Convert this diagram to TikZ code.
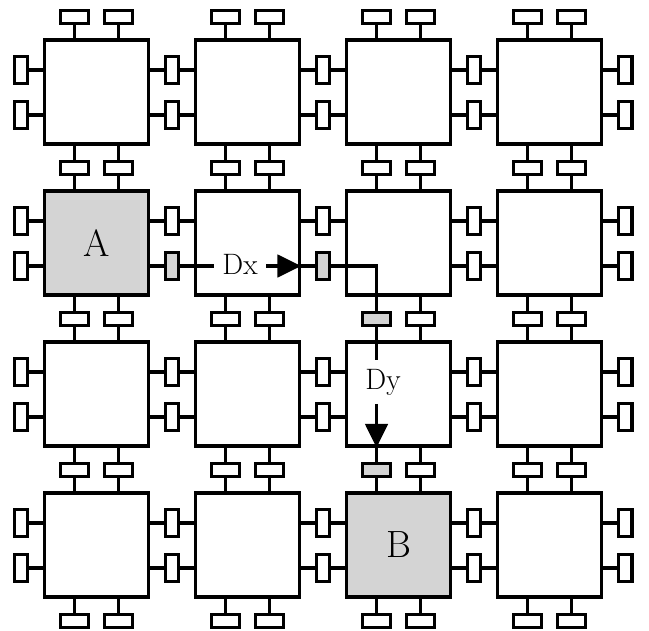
\documentclass[tikz,border=0pt]{standalone}
\usetikzlibrary{arrows.meta}
\begin{document}
\begin{tikzpicture}[
    x=0.025cm, y=-0.025cm,
    line width=2.4pt,
    chip/.style={draw, fill=white, minimum size=2.6cm, inner sep=0pt},
    vport/.style={draw, fill=white, minimum width=0.34cm, minimum height=0.68cm, inner sep=0pt},
    hport/.style={draw, fill=white, minimum width=0.7cm, minimum height=0.34cm, inner sep=0pt},
    marked/.style={fill=black!17},
    chiptext/.style={font=\fontsize{27}{30}\selectfont},
    hoptext/.style={font=\fontsize{21}{24}\selectfont, inner sep=5pt},
    hop/.style={-{Triangle[length=17pt, width=16pt]}}
]
\useasboundingbox (0,0) rectangle (649,630);

% Marked chips and ports
\tikzset{
    chip 2-1/.style=marked, chip 4-3/.style=marked,
    vp 2-1-2/.style=marked, vp 2-2-2/.style=marked,
    hp 2-3-1/.style=marked, hp 3-3-1/.style=marked
}

% Chips
\foreach \r in {1,...,4}
  \foreach \c in {1,...,4}
    \node[chip, chip \r-\c/.try] (sq-\r-\c) at ({96.5+151*(\c-1)}, {92+151*(\r-1)}) {};
\node[chiptext] (lbl-a) at (sq-2-1) {A};
\node[chiptext] (lbl-b) at (sq-4-3) {B};

% Ports on the left and right sides
\foreach \r in {1,...,4}
  \foreach \k in {0,...,4}
    \foreach \i/\o in {1/-22, 2/23}
      \node[vport, vp \r-\k-\i/.try] (vp-\r-\k-\i) at ({21+151*\k}, {92+151*(\r-1)+\o}) {};

% Ports on the top and bottom sides
\foreach \k in {0,...,4}
  \foreach \c in {1,...,4}
    \foreach \i/\o in {1/-22, 2/22}
      \node[hport, hp \k-\c-\i/.try] (hp-\k-\c-\i) at ({96.5+151*(\c-1)+\o}, {17+151*\k}) {};

% Stems
\foreach \r in {1,...,4}
  \foreach \c in {1,...,4}
    \foreach \i in {1,2} {
      \pgfmathtruncatemacro\k{\c-1}
      \pgfmathtruncatemacro\q{\r-1}
      \draw (vp-\r-\k-\i.east) -- (vp-\r-\k-\i.east -| sq-\r-\c.west);
      \draw (vp-\r-\c-\i.west) -- (vp-\r-\c-\i.west -| sq-\r-\c.east);
      \draw (hp-\q-\c-\i.south) -- (hp-\q-\c-\i.south |- sq-\r-\c.north);
      \draw (hp-\r-\c-\i.north) -- (hp-\r-\c-\i.north |- sq-\r-\c.south);
    }

% Route from A to B
\node[hoptext, anchor=base] (dx) at (240, 274) {Dx};
\draw (vp-2-1-2.east) -- (vp-2-1-2.east -| dx.west);
\draw[hop] (vp-2-1-2 -| dx.east) -- (vp-2-1-2 -| sq-2-2.east);
\draw (vp-2-2-2.east) -| (hp-2-3-1.north);
\node[hoptext] (dy) at (383, 382) {Dy};
\draw (hp-2-3-1.south) -- (hp-2-3-1.south |- dy.north);
\draw[hop] (hp-2-3-1.south |- dy.south) -- (hp-2-3-1.south |- sq-3-3.south);

\end{tikzpicture}
\end{document}
